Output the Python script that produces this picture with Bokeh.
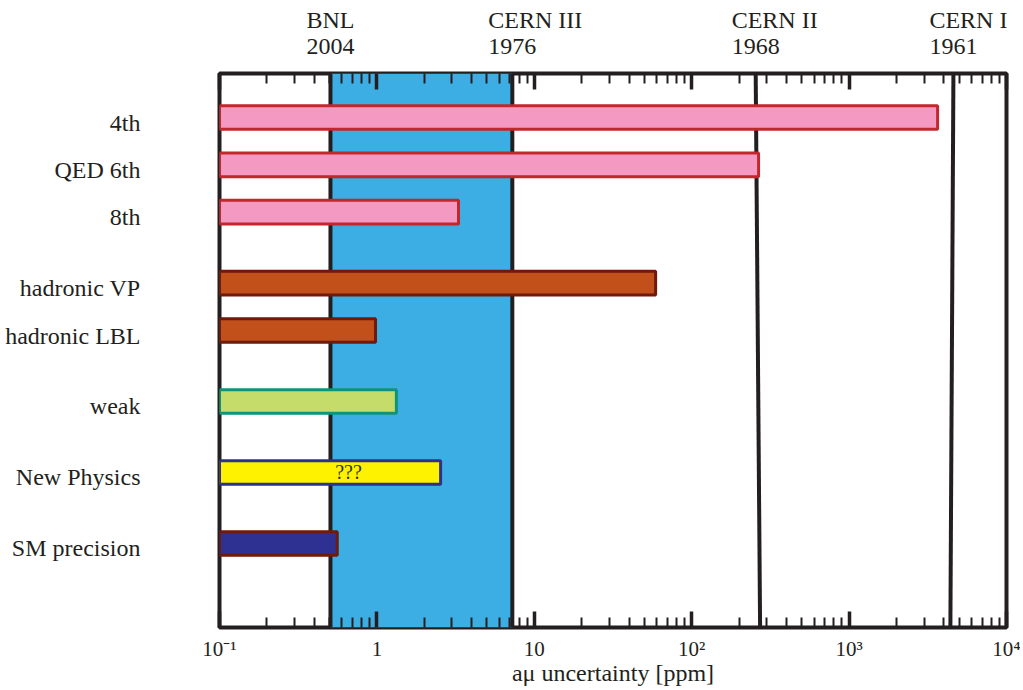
from bokeh.plotting import figure
from bokeh.models import Range1d, FixedTicker, LogAxis, LinearAxis, BoxAnnotation
from bokeh.core.properties import value
from bokeh.embed import file_html
from bokeh.resources import INLINE

# ---------------- data ----------------
groups = [["4th", "QED 6th", "8th"],
          ["hadronic VP", "hadronic LBL"],
          ["weak"],
          ["New Physics"],
          ["SM precision"]]
categories = [c for g in groups for c in g]
uncertainty = [3650, 266, 3.3, 59, 0.98, 1.33, 2.54, 0.56]   # ppm
fill_colors = ["#F49AC2", "#F49AC2", "#F49AC2", "#C1501A", "#C1501A",
               "#C5DC6A", "#FFF200", "#2E3192"]
line_colors = ["#C1272D", "#C1272D", "#C1272D", "#6E1A0C", "#6E1A0C",
               "#0E9478", "#2E3192", "#6E1A0C"]

experiments = ["BNL", "CERN III", "CERN II", "CERN I"]
years = ["2004", "1976", "1968", "1961"]
exp_top = [0.507, 7.25, 255, 4600]       # ppm at top edge
exp_bottom = [0.507, 7.25, 272, 4400]    # ppm at bottom edge

x_ticks = [0.1, 1.0, 10.0, 100.0, 1000.0, 10000.0]
x_tick_labels = ["10\u207b\u00b9", "1", "10", "10\u00b2", "10\u00b3", "10\u2074"]
x_title = "a\u03bc uncertainty [ppm]"
np_text = "???"
np_text_x = 0.66

# ---------------- layout helpers ----------------
rows = []
r = 0.0
for gi, g in enumerate(groups):
    if gi > 0:
        r += 0.5
    for _ in g:
        rows.append(r)
        r += 1.0

Y_TOP = -0.93
Y_BOT = rows[-1] + 1.775
FONT = "Liberation Serif"
INK = "#231F20"
DECADE_PX = 157.4
LABEL_PX = 24

# approximate Times advance widths (1/1000 em) for left-aligning top labels
_W = {"B": 667, "C": 667, "E": 611, "I": 333, "L": 611, "N": 722, "R": 667,
      " ": 250}


def text_px(s):
    return sum(_W.get(ch, 500) for ch in s) * LABEL_PX / 1000.0


p = figure(width=1020, height=690, x_axis_type="log",
           x_range=Range1d(x_ticks[0], x_ticks[-1]),
           y_range=Range1d(Y_BOT, Y_TOP),
           output_backend="svg", toolbar_location=None,
           y_axis_location=None,
           min_border_left=219, min_border_right=14,
           min_border_top=73, min_border_bottom=63)
p.grid.grid_line_color = None
p.outline_line_color = INK
p.outline_line_width = 4
p.background_fill_color = "white"
p.border_fill_color = "white"

minor = [d * k for d in x_ticks[:-1] for k in range(2, 10)]


def style_ticks(a):
    a.axis_line_color = None
    a.major_tick_in = 16
    a.major_tick_out = 0
    a.minor_tick_in = 10
    a.minor_tick_out = 0
    a.major_tick_line_width = 3.5
    a.minor_tick_line_width = 2
    a.major_tick_line_color = INK
    a.minor_tick_line_color = INK


def label_only(a, standoff):
    a.axis_line_color = None
    a.major_tick_line_color = None
    a.minor_tick_line_color = None
    a.major_tick_in = 0
    a.major_tick_out = 0
    a.minor_tick_in = 0
    a.minor_tick_out = 0
    a.major_label_standoff = standoff
    a.major_label_text_font = FONT
    a.major_label_text_font_size = f"{LABEL_PX}px"
    a.major_label_text_color = INK


ax = p.xaxis[0]
ax.ticker = FixedTicker(ticks=x_ticks, minor_ticks=minor)
ax.major_label_overrides = dict(zip(x_ticks, x_tick_labels))
style_ticks(ax)
ax.major_label_standoff = 9
ax.major_label_text_font = FONT
ax.major_label_text_font_size = "21px"
ax.major_label_text_color = INK
ax.axis_label = x_title
ax.axis_label_standoff = -4
ax.axis_label_text_font = FONT
ax.axis_label_text_font_style = "normal"
ax.axis_label_text_font_size = "24px"
ax.axis_label_text_color = INK

# top tick axis (ticks only)
top = LogAxis(ticker=FixedTicker(ticks=x_ticks, minor_ticks=minor))
style_ticks(top)
top.major_label_text_color = None
top.major_label_text_font_size = "1px"
top.major_label_standoff = 0
p.add_layout(top, "above")

# year labels (centred on each experiment line)
yr_axis = LogAxis(ticker=FixedTicker(ticks=exp_top, minor_ticks=[]))
label_only(yr_axis, 20)
yr_axis.major_label_overrides = dict(zip(exp_top, years))
p.add_layout(yr_axis, "above")

# experiment names, left-aligned with the years
name_ticks = [v * 10 ** ((text_px(n) / 2 - text_px(y) / 2) / DECADE_PX)
              for v, n, y in zip(exp_top, experiments, years)]
nm_axis = LogAxis(ticker=FixedTicker(ticks=name_ticks, minor_ticks=[]))
label_only(nm_axis, 3)
nm_axis.major_label_overrides = dict(zip(name_ticks, experiments))
p.add_layout(nm_axis, "above")

# left category labels axis
y_shift = 5 / 47.33
y_ticks = [v + y_shift for v in rows]
yax = LinearAxis(ticker=FixedTicker(ticks=y_ticks, minor_ticks=[]))
label_only(yax, 79)
yax.major_label_overrides = dict(zip(y_ticks, categories))
p.add_layout(yax, "left")

# blue band between BNL and CERN III
band = BoxAnnotation(left=exp_top[0], right=exp_top[1], fill_color="#3DAEE3",
                     fill_alpha=1.0, line_color=None, level="underlay")
p.add_layout(band)

# experiment lines
p.segment(x0=exp_top, y0=[Y_TOP] * len(exp_top), x1=exp_bottom,
          y1=[Y_BOT] * len(exp_bottom), line_color=INK, line_width=4)

# bars
p.hbar(y=rows, height=0.5, left=x_ticks[0], right=uncertainty,
       fill_color=fill_colors, line_color=line_colors, line_width=3)

p.text(x=[np_text_x], y=[rows[categories.index("New Physics")]], text=[np_text],
       text_align="center", text_baseline="middle",
       text_font=value(FONT), text_font_size="20px", text_color="#333333")

open("out.html", "w").write(file_html(p, INLINE))
